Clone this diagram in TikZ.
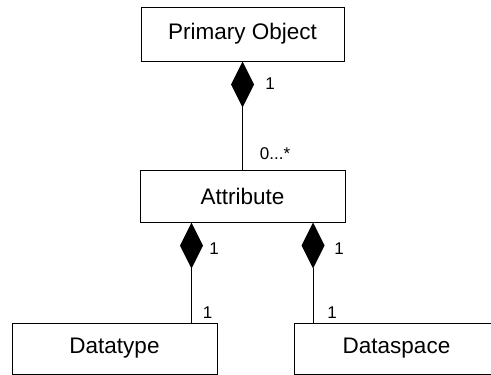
\documentclass[tikz,border=0pt]{standalone}
\usepackage{fontspec}
\setmainfont{Liberation Sans}
\usetikzlibrary{arrows.meta,calc}
\begin{document}
\begin{tikzpicture}[x=1pt,y=-1pt,
  classbox/.style={draw=black,line width=1pt,fill=white,inner sep=0pt,
    font=\fontsize{22.5}{27}\selectfont},
  comp/.style={draw=black,line width=1pt,
    {Diamond[length=46pt,width=23pt,line width=0pt,fill=black]}-},
  mult/.style={inner sep=0pt,font=\fontsize{17}{20}\selectfont}]
\useasboundingbox (0,0) rectangle (491,375);
\clip (0,0) rectangle (491,375);

% class boxes
\node[classbox,minimum width=203pt,minimum height=54pt] (primary) at (242.5,34) {Primary Object};
\node[classbox,minimum width=205pt,minimum height=52pt] (attr) at (242.5,196) {Attribute};
\node[classbox,minimum width=205pt,minimum height=51pt] (dtype) at (114.5,348.5) {Datatype};
\node[classbox,minimum width=205pt,minimum height=51pt] (dspace) at (396.5,348.5) {Dataspace};

% attachment points on the attribute box
\coordinate (aleft) at ($(attr.south west)+(52,0)$);
\coordinate (aright) at ($(attr.south west)+(173.5,0)$);

% composition links
\draw[comp] (primary.south) -- (attr.north);
\draw[comp] (aleft) -- (aleft |- dtype.north);
\draw[comp] (aright) -- (aright |- dspace.north);

% multiplicities
\node[mult] (m1) at (270,84) {1};
\node[mult] (m2) at (275,154) {0...*};
\node[mult] (m3) at (214,249) {1};
\node[mult] (m4) at (207.5,313) {1};
\node[mult] (m5) at (339,249) {1};
\node[mult] (m6) at (332,313) {1};
\end{tikzpicture}
\end{document}
